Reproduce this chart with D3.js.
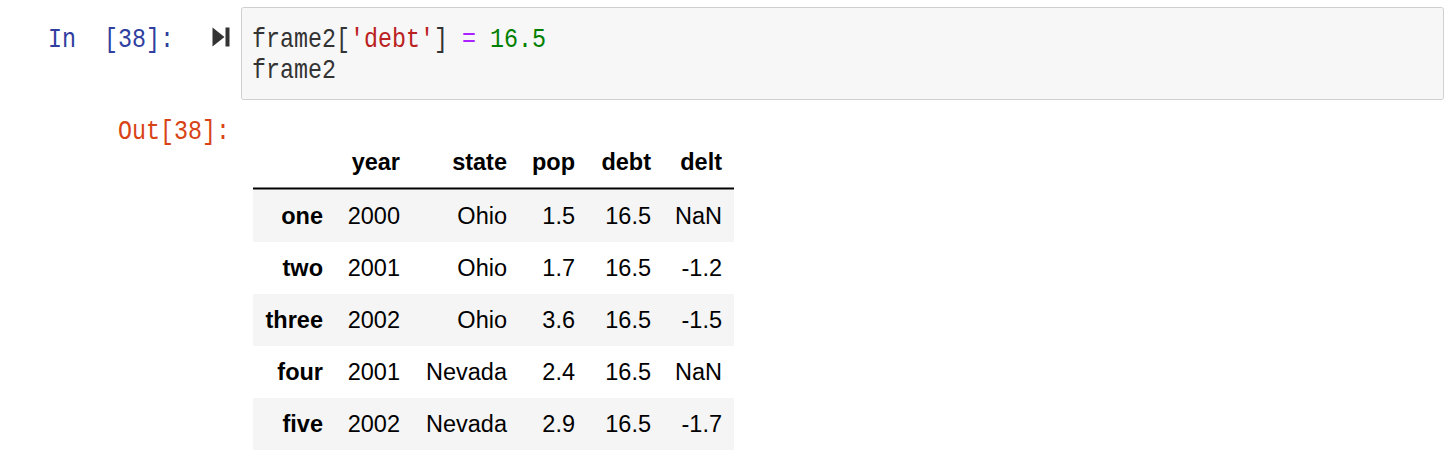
<!DOCTYPE html>
<html>
<head>
<meta charset="utf-8">
<script src="https://cdn.jsdelivr.net/npm/d3@7"></script>
<style>
  html, body { margin: 0; padding: 0; background: #fff; overflow: hidden; }
</style>
</head>
<body>
<div class="svg-container"></div>
<script>
// table contents
var rowLabels = ["one", "two", "three", "four", "five"];
var columns = ["year", "state", "pop", "debt", "delt"];
var years = [2000, 2001, 2002, 2001, 2002];
var states = ["Ohio", "Ohio", "Ohio", "Nevada", "Nevada"];
var pops = [1.5, 1.7, 3.6, 2.4, 2.9];
var debts = [16.5, 16.5, 16.5, 16.5, 16.5];
var delts = [NaN, -1.2, -1.5, NaN, -1.7];

// code cell
var promptIn = "In  [38]:";
var promptOut = "Out[38]:";
var codeLines = [
  [["frame2[", "#333"], ["'debt'", "#BA2121"], ["] ", "#333"], ["=", "#AA22FF"], [" ", "#333"], ["16.5", "#008000"]],
  [["frame2", "#333"]]
];

var width = 1450, height = 458;
var mono = "'Liberation Mono', 'DejaVu Sans Mono', monospace";
var sans = "'Liberation Sans', Arial, sans-serif";
var charW = 14;

var svg = d3.select(".svg-container").append("svg")
  .attr("width", width).attr("height", height);

// monospace line made of coloured pieces, squeezed to fixed advance per char
var monoLine = (x, y, parts) => {
  var total = d3.sum(parts, p => p[0].length);
  var t = svg.append("text")
    .attr("x", x).attr("y", y)
    .attr("font-family", mono).attr("font-size", 28)
    .attr("textLength", total * charW)
    .attr("lengthAdjust", "spacingAndGlyphs")
    .style("white-space", "pre");
  t.selectAll("tspan")
    .data(parts)
    .enter().append("tspan")
    .attr("fill", d => d[1])
    .text(d => d[0]);
};

// input prompt + run icon
monoLine(48, 47, [[promptIn, "#303F9F"]]);
svg.append("path")
  .attr("d", "M212.5,27.5 L224.5,37 L212.5,46.5 Z M225.5,27.5 L229.5,27.5 L229.5,46.5 L225.5,46.5 Z")
  .attr("fill", "#333");

// input box
svg.append("rect")
  .attr("x", 241.5).attr("y", 7.5).attr("width", 1202).attr("height", 92)
  .attr("rx", 2).attr("fill", "#f7f7f7").attr("stroke", "#cfcfcf");

codeLines.forEach((parts, li) => {
  monoLine(252, 47 + li * 31, parts);
});

monoLine(118, 139, [[promptOut, "#D84315"]]);

// table layout
var tableLeft = 253, tableRight = 734;
var colRights = d3.scaleOrdinal()
  .domain(["index"].concat(columns))
  .range([323, 400, 507, 575, 651, 722]);
var rowY = d3.scaleBand().domain(rowLabels).range([190, 450]);
var series = {year: years, state: states, pop: pops, debt: debts, delt: delts};
var cellValue = (col, i) => {
  var v = series[col][i];
  if (typeof v === "number" && col !== "year") { return isNaN(v) ? "NaN" : v.toFixed(1); }
  return String(v);
};

var table = svg.append("g");

// striped rows
table.selectAll("rect.stripe")
  .data(rowLabels.filter((d, i) => i % 2 === 0))
  .enter().append("rect")
  .attr("class", "stripe")
  .attr("x", tableLeft).attr("width", tableRight - tableLeft)
  .attr("y", d => rowY(d)).attr("height", rowY.bandwidth())
  .attr("fill", "#f5f5f5");

// header line
table.append("rect")
  .attr("x", tableLeft).attr("y", 187.5)
  .attr("width", tableRight - tableLeft).attr("height", 2)
  .attr("fill", "#000");

// header labels
table.selectAll("text.head")
  .data(columns)
  .enter().append("text")
  .attr("class", "head")
  .attr("x", d => colRights(d)).attr("y", 170)
  .attr("text-anchor", "end")
  .attr("font-family", sans).attr("font-size", 23.5).attr("font-weight", "bold")
  .attr("fill", "#000")
  .text(d => d);

// body rows
var rows = table.selectAll("g.row")
  .data(rowLabels)
  .enter().append("g")
  .attr("class", "row")
  .attr("transform", d => `translate(0,${rowY(d) + rowY.bandwidth() / 2 + 8})`);

rows.append("text")
  .attr("x", colRights("index")).attr("text-anchor", "end")
  .attr("font-family", sans).attr("font-size", 23.5).attr("font-weight", "bold")
  .attr("fill", "#000")
  .text(d => d);

rows.each(function(d, i) {
  d3.select(this).selectAll("text.cell")
    .data(columns)
    .enter().append("text")
    .attr("class", "cell")
    .attr("x", c => colRights(c)).attr("text-anchor", "end")
    .attr("font-family", sans).attr("font-size", 23.5)
    .attr("fill", "#000")
    .text(c => cellValue(c, i));
});
</script>
</body>
</html>
